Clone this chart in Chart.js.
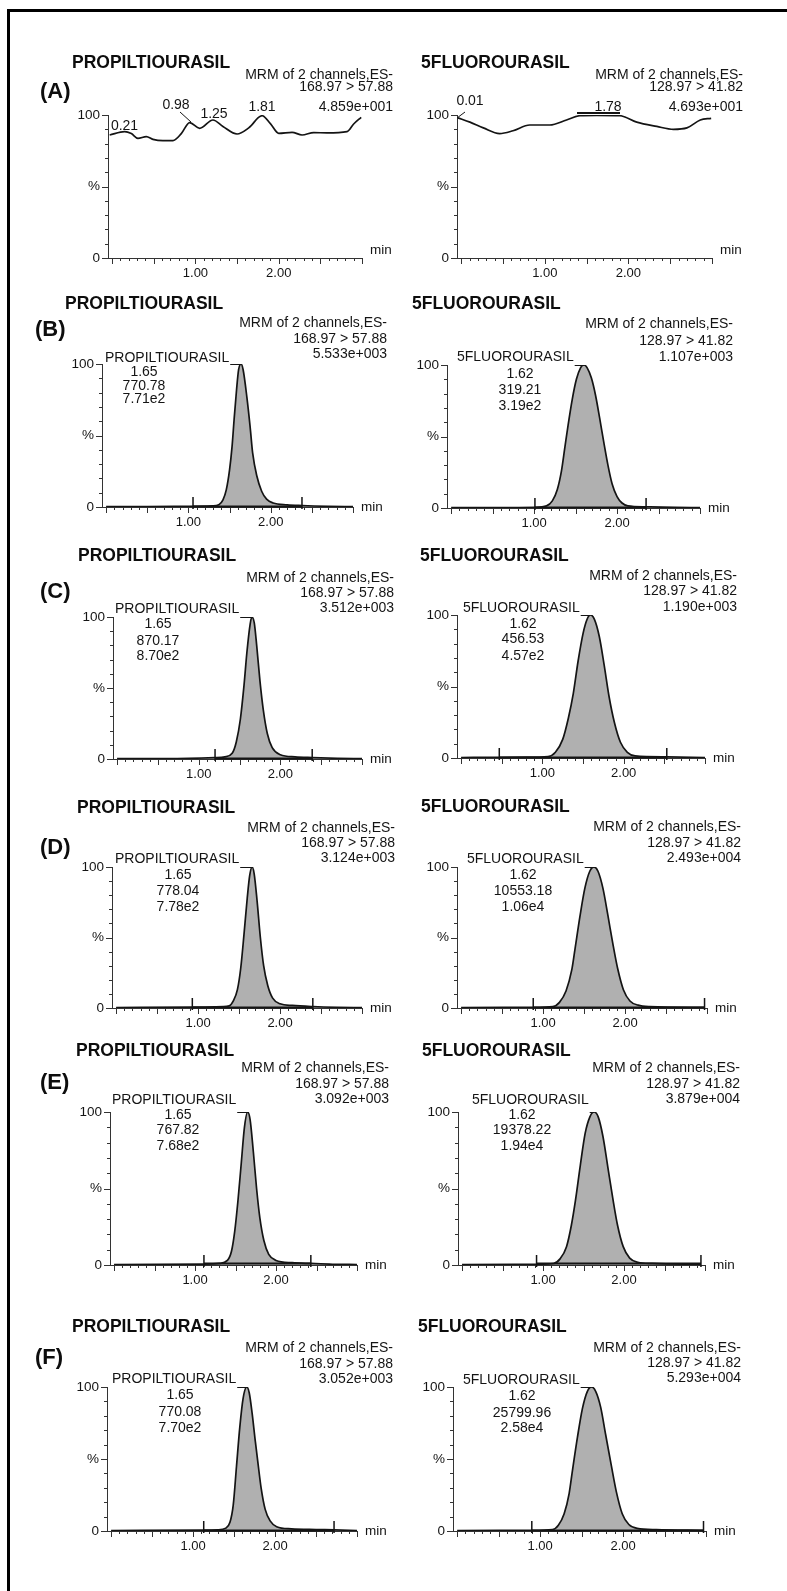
<!DOCTYPE html>
<html><head><meta charset="utf-8">
<script src="https://cdn.jsdelivr.net/npm/chart.js@4.4.1/dist/chart.umd.min.js"></script>
<style>
html,body{margin:0;padding:0;background:#fff;width:787px;height:1591px;overflow:hidden}
#wrap{position:relative;width:787px;height:1591px}
#frame{position:absolute;left:7px;top:9px;right:0;bottom:0;border-top:3px solid #000;border-left:3px solid #000}
#wrap canvas{position:absolute;left:0;top:0}
</style></head>
<body><div id="wrap"><div id="frame"></div></div>
<script>
// ---------------- DATA ----------------
const X_MIN = -0.05, X_MAX = 3.0;
const xTickValues = [1, 2];
const xTickLabels = ['1.00', '2.00'];
const yTickValues = [0, 50, 100];
const yTickLabels = ['0', '%', '100'];
const xUnit = 'min';

const rowLetters = ['(A)', '(B)', '(C)', '(D)', '(E)', '(F)'];
const compounds = ['PROPILTIOURASIL', '5FLUOROURASIL'];
const channelHeader = 'MRM of 2 channels,ES-';
const transitions = ['168.97 > 57.88', '128.97 > 41.82'];
const intensityLeft = ['4.859e+001', '5.533e+003', '3.512e+003', '3.124e+003', '3.092e+003', '3.052e+003'];
const intensityRight = ['4.693e+001', '1.107e+003', '1.190e+003', '2.493e+004', '3.879e+004', '5.293e+004'];
const rtLeft = [null, '1.65', '1.65', '1.65', '1.65', '1.65'];
const areaLeft = [null, '770.78', '870.17', '778.04', '767.82', '770.08'];
const areaExpLeft = [null, '7.71e2', '8.70e2', '7.78e2', '7.68e2', '7.70e2'];
const rtRight = [null, '1.62', '1.62', '1.62', '1.62', '1.62'];
const areaRight = [null, '319.21', '456.53', '10553.18', '19378.22', '25799.96'];
const areaExpRight = [null, '3.19e2', '4.57e2', '1.06e4', '1.94e4', '2.58e4'];
const blankPeaksLeft = ['0.21', '0.98', '1.25', '1.81'];
const blankPeaksRight = ['0.01', '1.78'];

// integration limits (min)
const integLeft = [null, [1.056, 2.38], [1.20, 2.39], [0.93, 2.40], [1.11, 2.43], [1.13, 2.72]];
const integRight = [null, [1.01, 2.35], [0.47, 2.53], [0.88, 2.97], [0.92, 2.95], [0.90, 2.97]];

// traces: time (min) and relative intensity (%)
const tA1 = [-0.03, 0.15, 0.23, 0.31, 0.41, 0.49, 0.61, 0.73, 0.83, 0.93, 1.05, 1.21, 1.33, 1.50, 1.64, 1.80, 1.90, 2.00, 2.16, 2.28, 2.42, 2.58, 2.82, 2.90, 2.99];
const yA1 = [86, 88.4, 87, 83.7, 84.9, 83, 82.1, 82.1, 87, 94.7, 90.7, 96.5, 92, 86.7, 91, 99.5, 94, 87.2, 87.9, 86, 87.7, 87.5, 88.4, 93.7, 98.4];
const tA2 = [-0.04, 0.105, 0.265, 0.46, 0.62, 0.82, 1.06, 1.26, 1.42, 1.62, 1.90, 2.10, 2.34, 2.54, 2.70, 2.86, 2.99];
const yA2 = [98, 95, 91, 87, 89, 93, 93, 96.5, 99.5, 99.8, 99.5, 95, 92, 90, 91, 96.5, 97.7];

const tB1 = [0, 0.5, 1.0, 1.29, 1.37, 1.42, 1.46, 1.50, 1.53, 1.555, 1.585, 1.61, 1.64, 1.665, 1.71, 1.75, 1.78, 1.83, 1.89, 1.95, 2.03, 2.20, 2.38, 2.7, 3.0];
const yB1 = [0.3, 0.3, 0.5, 0.8, 1.6, 5, 12, 26, 42, 61, 82, 96, 100, 96, 77, 56, 38, 22, 11, 5.5, 2.8, 1.5, 1, 0.5, 0.3];
const tB2 = [0, 0.6, 1.01, 1.15, 1.22, 1.28, 1.33, 1.37, 1.41, 1.46, 1.51, 1.56, 1.60, 1.64, 1.69, 1.74, 1.79, 1.84, 1.89, 1.94, 2.00, 2.06, 2.13, 2.35, 2.7, 3.0];
const yB2 = [0.3, 0.3, 0.5, 1.5, 5, 13, 26, 42, 58, 76, 90, 98, 100, 98, 91, 79, 63, 46, 30, 17, 8, 3.5, 1.5, 0.8, 0.4, 0.3];

const tC1 = [0, 0.6, 1.20, 1.32, 1.41, 1.46, 1.51, 1.555, 1.59, 1.63, 1.65, 1.68, 1.71, 1.75, 1.79, 1.84, 1.90, 2.00, 2.18, 2.39, 2.7, 3.0];
const yC1 = [0.3, 0.3, 1, 1.5, 4, 12, 28, 52, 75, 95, 100, 96, 80, 55, 35, 18, 8, 3, 1.5, 1, 0.5, 0.3];
const tC2 = [0, 0.47, 0.8, 1.07, 1.16, 1.25, 1.32, 1.38, 1.44, 1.50, 1.55, 1.59, 1.64, 1.70, 1.76, 1.82, 1.885, 1.96, 2.045, 2.14, 2.53, 3.0];
const yC2 = [0.3, 0.5, 0.6, 1, 4, 13, 28, 45, 68, 87, 97, 100, 97, 85, 65, 43, 25, 11, 4, 1.5, 0.8, 0.3];

const tD1 = [0, 0.93, 1.2, 1.38, 1.43, 1.48, 1.52, 1.56, 1.60, 1.63, 1.66, 1.685, 1.72, 1.76, 1.80, 1.85, 1.91, 2.0, 2.15, 2.4, 2.7, 3.0];
const yD1 = [0.3, 0.6, 0.8, 1.5, 5, 13, 28, 52, 78, 94, 100, 95, 76, 50, 30, 16, 7, 3, 1.8, 1, 0.5, 0.3];
const tD2 = [0, 0.88, 1.12, 1.20, 1.28, 1.35, 1.39, 1.45, 1.51, 1.57, 1.62, 1.67, 1.73, 1.79, 1.85, 1.91, 1.98, 2.06, 2.16, 2.3, 2.97];
const yD2 = [0.3, 0.5, 1, 4, 12, 27, 42, 65, 85, 97, 100, 97, 85, 66, 46, 28, 13, 5, 2, 1, 0.5];

const tE1 = [0, 1.11, 1.3, 1.40, 1.45, 1.49, 1.53, 1.57, 1.61, 1.65, 1.68, 1.72, 1.76, 1.80, 1.85, 1.91, 2.0, 2.2, 2.43, 2.7, 3.0];
const yE1 = [0.3, 0.6, 1, 3, 9, 22, 42, 66, 90, 100, 95, 74, 50, 31, 16, 7, 3, 1.5, 1, 0.5, 0.3];
const tE2 = [0, 0.92, 1.13, 1.21, 1.29, 1.35, 1.40, 1.46, 1.52, 1.58, 1.63, 1.68, 1.74, 1.80, 1.86, 1.92, 1.99, 2.07, 2.17, 2.35, 2.95];
const yE2 = [0.3, 0.5, 1, 4, 12, 26, 42, 65, 86, 97, 100, 97, 84, 64, 44, 26, 12, 4.5, 1.8, 1, 0.5];

const tF1 = [0, 1.13, 1.3, 1.40, 1.45, 1.49, 1.53, 1.57, 1.61, 1.655, 1.685, 1.72, 1.76, 1.79, 1.83, 1.88, 1.94, 2.02, 2.2, 2.5, 2.72, 3.0];
const yF1 = [0.3, 0.6, 0.8, 2, 6, 18, 45, 72, 92, 100, 96, 82, 62, 48, 30, 15, 7, 3, 1.5, 1, 0.8, 0.3];
const tF2 = [0, 0.90, 1.15, 1.22, 1.29, 1.35, 1.39, 1.45, 1.51, 1.57, 1.62, 1.67, 1.73, 1.79, 1.86, 1.92, 1.99, 2.07, 2.17, 2.4, 2.97];
const yF2 = [0.3, 0.5, 1, 4, 12, 26, 42, 65, 85, 97, 100, 97, 86, 67, 45, 27, 12, 4.5, 1.8, 1, 0.5];

const tracesLeft = [[tA1, yA1], [tB1, yB1], [tC1, yC1], [tD1, yD1], [tE1, yE1], [tF1, yF1]];
const tracesRight = [[tA2, yA2], [tB2, yB2], [tC2, yC2], [tD2, yD2], [tE2, yE2], [tF2, yF2]];

// ---------------- LAYOUT (page pixels) ----------------
const layoutLeft = [
  {L:108,R:362,T:115,B:258,title:[72,62],letter:[40,90],mrmR:393,mrmY:[74,86,106],minDy:-8},
  {L:102,R:353,T:364,B:507,title:[65,303],letter:[35,328],mrmR:387,mrmY:[322,338,353],name:[105,357],numCx:144,numY:[371,385,398],minDy:0},
  {L:113,R:362,T:617,B:759,title:[78,555],letter:[40,590],mrmR:394,mrmY:[577,592,607],name:[115,608],numCx:158,numY:[623,640,655],minDy:0},
  {L:112,R:362,T:867,B:1008,title:[77,807],letter:[40,846],mrmR:395,mrmY:[827,842,857],name:[115,858],numCx:178,numY:[874,890,906],minDy:0},
  {L:110,R:357,T:1112,B:1265,title:[76,1050],letter:[40,1081],mrmR:389,mrmY:[1067,1083,1098],name:[112,1099],numCx:178,numY:[1114,1129,1145],minDy:0},
  {L:107,R:357,T:1387,B:1531,title:[72,1326],letter:[35,1356],mrmR:393,mrmY:[1347,1363,1378],name:[112,1378],numCx:180,numY:[1394,1411,1427],minDy:0}
];
const layoutRight = [
  {L:457,R:712,T:115,B:258,title:[421,62],mrmR:743,mrmY:[74,86,106],minDy:-8},
  {L:447,R:700,T:365,B:508,title:[412,303],mrmR:733,mrmY:[323,340,356],name:[457,356],numCx:520,numY:[373,389,405],minDy:0},
  {L:457,R:705,T:615,B:758,title:[420,555],mrmR:737,mrmY:[575,590,606],name:[463,607],numCx:523,numY:[623,638,655],minDy:0},
  {L:457,R:707,T:867,B:1008,title:[421,806],mrmR:741,mrmY:[826,842,857],name:[467,858],numCx:523,numY:[874,890,906],minDy:0},
  {L:458,R:705,T:1112,B:1265,title:[422,1050],mrmR:740,mrmY:[1067,1083,1098],name:[472,1099],numCx:522,numY:[1114,1129,1145],minDy:0},
  {L:453,R:706,T:1387,B:1531,title:[418,1326],mrmR:741,mrmY:[1347,1362,1377],name:[463,1379],numCx:522,numY:[1395,1412,1427],minDy:0}
];
const blankLabelPosLeft = [[124.5,125],[176,104],[214,113],[262,106]];
const blankLeadersLeft = [[180,112,191,122]];
const blankLabelPosRight = [[470,100],[608,106]];
const blankLeadersRight = [[465,112,457,118]];
const blankUnderRight = [[577,113,620,113]];

// ---------------- STYLE ----------------
const W = 787, H = 1591, YW = 40, XH = 30;
const FF = "'Liberation Sans', Arial, Helvetica, sans-serif";
const INK = '#141414', AXIS = '#333', FILL = '#b0b0b0';

function capText(ctx, s, x, y, size, weight, align, color) {
  ctx.font = (weight ? weight + ' ' : '') + size + 'px ' + FF;
  ctx.textAlign = align; ctx.textBaseline = 'alphabetic';
  ctx.fillStyle = color || INK;
  ctx.fillText(s, x, y + 0.358 * size);
}

function makeAnnot(p) {
  return {
    id: 'annot',
    afterDraw(chart) {
      const ctx = chart.ctx, xs = chart.scales.x, ys = chart.scales.y, ca = chart.chartArea;
      ctx.save();
      // tick marks
      ctx.strokeStyle = AXIS; ctx.lineWidth = 1; ctx.beginPath();
      for (let i = 0; i <= 10; i++) {
        const py = Math.round(ys.getPixelForValue(i * 10)) + 0.5, len = (i % 5 === 0) ? 6 : 3;
        ctx.moveTo(ca.left - len, py); ctx.lineTo(ca.left, py);
      }
      for (let i = 0; i <= 30; i++) {
        const px = Math.round(xs.getPixelForValue(i / 10)) + 0.5, len = (i % 5 === 0) ? 6 : 3;
        ctx.moveTo(px, ca.bottom); ctx.lineTo(px, ca.bottom + len);
      }
      ctx.stroke();
      const lay = p.lay;
      // unit
      ctx.font = '13.5px ' + FF; ctx.fillStyle = INK; ctx.textAlign = 'left'; ctx.textBaseline = 'alphabetic';
      ctx.fillText(xUnit, ca.right + 8, ca.bottom + lay.minDy + 4);
      // title, letter
      capText(ctx, p.compound, lay.title[0], lay.title[1], 17.5, 'bold', 'left', '#0d0d0d');
      if (lay.letter) capText(ctx, p.letter, lay.letter[0], lay.letter[1], 22, 'bold', 'left', '#0d0d0d');
      // MRM header
      capText(ctx, channelHeader, lay.mrmR, lay.mrmY[0], 14, '', 'right');
      capText(ctx, p.transition, lay.mrmR, lay.mrmY[1], 14, '', 'right');
      capText(ctx, p.intensity, lay.mrmR, lay.mrmY[2], 14, '', 'right');
      if (p.rt) {
        // integration baseline
        const y1 = Math.round(ys.getPixelForValue(1)) + 0.5;
        const xa = xs.getPixelForValue(p.integ[0]), xb = xs.getPixelForValue(p.integ[1]);
        ctx.strokeStyle = INK; ctx.lineWidth = 2;
        ctx.beginPath(); ctx.moveTo(xa, y1); ctx.lineTo(xb, y1); ctx.stroke();
        ctx.lineWidth = 1.5; ctx.beginPath();
        ctx.moveTo(xa, ca.bottom - 10); ctx.lineTo(xa, ca.bottom + 2);
        ctx.moveTo(xb, ca.bottom - 10); ctx.lineTo(xb, ca.bottom + 2);
        ctx.stroke();
        // peak label with leader to apex
        let im = 0; p.y.forEach((v, i) => { if (v > p.y[im]) im = i; });
        const apexX = xs.getPixelForValue(p.t[im]), topY = Math.round(ys.getPixelForValue(100)) + 0.5;
        ctx.font = '14px ' + FF;
        const wName = ctx.measureText(p.compound).width;
        capText(ctx, p.compound, lay.name[0], lay.name[1], 14, '', 'left');
        ctx.strokeStyle = INK; ctx.lineWidth = 1;
        ctx.beginPath(); ctx.moveTo(lay.name[0] + wName + 1, topY); ctx.lineTo(apexX, topY); ctx.stroke();
        capText(ctx, p.rt, lay.numCx, lay.numY[0], 14, '', 'center');
        capText(ctx, p.area, lay.numCx, lay.numY[1], 14, '', 'center');
        capText(ctx, p.areaExp, lay.numCx, lay.numY[2], 14, '', 'center');
      } else {
        p.blankLabels.forEach((s, i) => capText(ctx, s, p.blankPos[i][0], p.blankPos[i][1], 14, '', 'center'));
        ctx.strokeStyle = INK; ctx.lineWidth = 1; ctx.beginPath();
        p.blankLeaders.forEach(l => { ctx.moveTo(l[0], l[1]); ctx.lineTo(l[2], l[3]); });
        ctx.stroke();
        ctx.lineWidth = 2; ctx.beginPath();
        p.blankUnder.forEach(l => { ctx.moveTo(l[0], l[1]); ctx.lineTo(l[2], l[3]); });
        ctx.stroke();
      }
      ctx.restore();
    }
  };
}

const panels = [];
for (let r = 0; r < 6; r++) {
  panels.push({lay: layoutLeft[r], t: tracesLeft[r][0], y: tracesLeft[r][1], compound: compounds[0], letter: rowLetters[r],
    transition: transitions[0], intensity: intensityLeft[r], rt: rtLeft[r], area: areaLeft[r], areaExp: areaExpLeft[r],
    integ: integLeft[r], blankLabels: blankPeaksLeft, blankPos: blankLabelPosLeft, blankLeaders: blankLeadersLeft, blankUnder: []});
  panels.push({lay: layoutRight[r], t: tracesRight[r][0], y: tracesRight[r][1], compound: compounds[1], letter: null,
    transition: transitions[1], intensity: intensityRight[r], rt: rtRight[r], area: areaRight[r], areaExp: areaExpRight[r],
    integ: integRight[r], blankLabels: blankPeaksRight, blankPos: blankLabelPosRight, blankLeaders: blankLeadersRight, blankUnder: blankUnderRight});
}

const wrap = document.getElementById('wrap');
panels.forEach(p => {
  const c = document.createElement('canvas');
  c.width = W; c.height = H; c.style.width = W + 'px'; c.style.height = H + 'px';
  wrap.appendChild(c);
  const lay = p.lay;
  new Chart(c, {
    type: 'line',
    data: { datasets: [{
      data: p.t.map((t, i) => ({x: t, y: p.y[i]})),
      borderColor: INK, borderWidth: 1.7, pointRadius: 0,
      fill: p.rt ? 'origin' : false, backgroundColor: FILL,
      cubicInterpolationMode: 'monotone'
    }]},
    options: {
      responsive: false, maintainAspectRatio: false, animation: false, devicePixelRatio: 1, events: [],
      layout: { padding: { left: lay.L - YW, right: W - lay.R, top: lay.T, bottom: H - lay.B - XH } },
      plugins: { legend: { display: false }, tooltip: { enabled: false } },
      scales: {
        x: {
          type: 'linear', min: X_MIN, max: X_MAX,
          afterFit: s => { s.height = XH; },
          afterBuildTicks: s => { s.ticks = xTickValues.map(v => ({value: v})); },
          grid: { display: true, drawOnChartArea: false, drawTicks: false },
          border: { display: true, color: AXIS, width: 1 },
          ticks: { autoSkip: false, maxRotation: 0, padding: 8, color: INK, font: { family: FF, size: 13 },
            callback: v => { const i = xTickValues.indexOf(v); return i >= 0 ? xTickLabels[i] : ''; } }
        },
        y: {
          type: 'linear', min: 0, max: 100,
          afterFit: s => { s.width = YW; },
          afterBuildTicks: s => { s.ticks = yTickValues.map(v => ({value: v})); },
          grid: { display: true, drawOnChartArea: false, drawTicks: false },
          border: { display: true, color: AXIS, width: 1 },
          ticks: { autoSkip: false, padding: 8, color: INK, font: { family: FF, size: 13.5 },
            callback: v => { const i = yTickValues.indexOf(v); return i >= 0 ? yTickLabels[i] : ''; } }
        }
      }
    },
    plugins: [makeAnnot(p)]
  });
});
</script></body></html>
